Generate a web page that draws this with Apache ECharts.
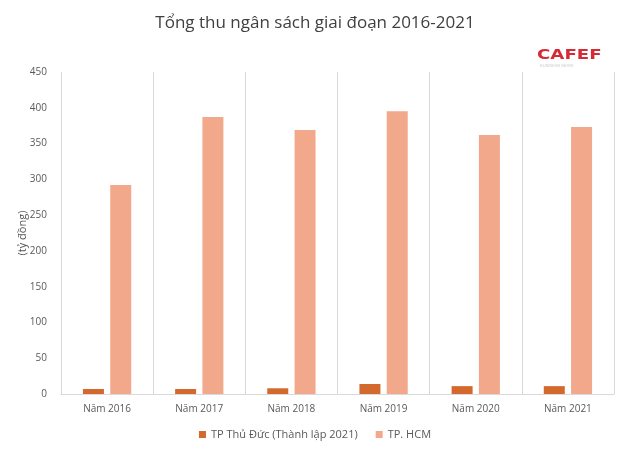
<!DOCTYPE html>
<html><head><meta charset="utf-8">
<script src="https://cdn.jsdelivr.net/npm/echarts@6/dist/echarts.min.js"></script>
<style>html,body{margin:0;padding:0;background:#fff}#c{width:630px;height:454px}</style>
</head><body><div id="c"></div>
<script>
var categories = ['Năm 2016','Năm 2017','Năm 2018','Năm 2019','Năm 2020','Năm 2021'];
var thuDuc = [7, 7, 8, 14, 11, 11];
var hcm = [292, 387, 369, 395, 362, 373];
var seriesNames = ['TP Thủ Đức (Thành lập 2021)', 'TP. HCM'];
var chart = echarts.init(document.getElementById('c'));
var font = '"Open Sans", "Noto Sans", sans-serif';
chart.setOption({
  animation: false,
  textStyle: {fontFamily: font},
  title: {text: 'Tổng thu ngân sách giai đoạn 2016-2021', left: 'center', top: 10,
    textStyle: {fontSize: 17, fontWeight: 'normal', color: '#404040', fontFamily: font}},
  graphic: [
    {type: 'text', left: 537, top: 48, scaleX: 1.3, style: {text: 'CAFEF', fill: '#d62b35', font: 'bold 14px "DejaVu Sans", sans-serif'}},
    {type: 'text', left: 540, top: 64, style: {text: 'BUSINESS NEWS', fill: '#cccccc', font: '4px sans-serif'}}
  ],
  legend: {bottom: 9, left: 'center', itemWidth: 7, itemHeight: 7, itemGap: 18, icon: 'rect',
    textStyle: {fontSize: 11, color: '#595959', fontFamily: font}},
  grid: {left: 61, right: 16, top: 72, bottom: 60},
  xAxis: {type: 'category', data: categories,
    axisLine: {lineStyle: {color: '#d9d9d9'}}, axisTick: {show: false},
    axisLabel: {color: '#595959', fontSize: 10, margin: 10},
    splitLine: {show: true, lineStyle: {color: '#d9d9d9'}}},
  yAxis: {type: 'value', min: 0, max: 450, interval: 50,
    name: '(tỷ đồng)', nameLocation: 'middle', nameGap: 33, nameRotate: 90, nameMoveOverlap: false,
    nameTextStyle: {color: '#595959', fontSize: 11},
    axisLine: {show: false}, axisTick: {show: false},
    axisLabel: {color: '#595959', fontSize: 10, margin: 14},
    splitLine: {show: false}},
  series: [
    {name: seriesNames[0], type: 'bar', data: thuDuc, barWidth: 21, barGap: '30%', itemStyle: {color: '#d4692d'}},
    {name: seriesNames[1], type: 'bar', data: hcm, barWidth: 21, itemStyle: {color: '#f2a88a'}}
  ]
});
</script></body></html>
